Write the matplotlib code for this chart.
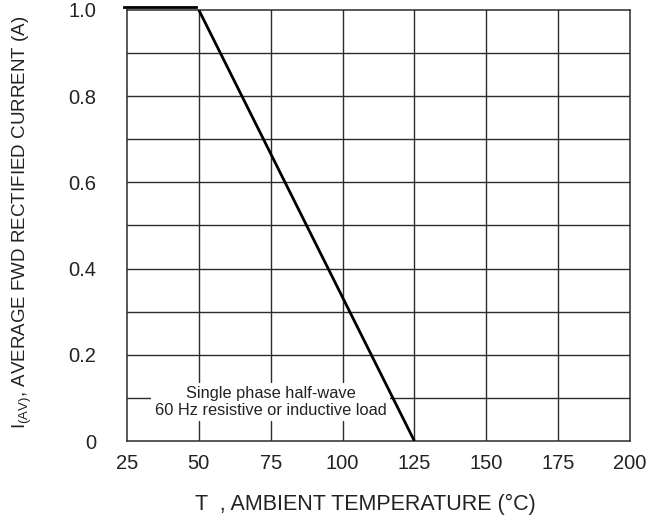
import matplotlib
matplotlib.use("Agg")
import matplotlib.pyplot as plt
from matplotlib.transforms import offset_copy

plt.rcParams["font.family"] = ["Liberation Sans", "DejaVu Sans"]

# derating curve: flat to 50 C, then linear down to zero at 125 C
flat_temp = [25, 50]
flat_current = [1.0, 1.0]
slope_temp = [50, 125]
slope_current = [1.0, 0.0]

x_ticks = [25, 50, 75, 100, 125, 150, 175, 200]
y_ticks = [0, 0.2, 0.4, 0.6, 0.8, 1.0]
y_tick_labels = ["0", "0.2", "0.4", "0.6", "0.8", "1.0"]
y_grid = [0.1, 0.2, 0.3, 0.4, 0.5, 0.6, 0.7, 0.8, 0.9]

fig = plt.figure(figsize=(6.6, 5.2), dpi=100)
ax = fig.add_axes([0.1924, 0.1519, 0.7621, 0.8289])
ax.set_xlim(25, 200)
ax.set_ylim(0, 1.0)

grid_color = "#2b2b2b"
for x in x_ticks[1:-1]:
    ax.axvline(x, color=grid_color, lw=1.0, zorder=1)
for y in y_grid:
    ax.axhline(y, color=grid_color, lw=1.0, zorder=1)

for side in ax.spines.values():
    side.set_color(grid_color)
    side.set_linewidth(1.1)

ax.plot(slope_temp, slope_current, color="black", lw=2.0, zorder=4,
        solid_capstyle="butt")
ax.plot(flat_temp, flat_current, color="black", lw=2.0, zorder=4,
        clip_on=False, solid_capstyle="projecting",
        transform=offset_copy(ax.transData, fig=fig, x=-3, y=3, units="dots"))

ax.text(75, 0.091, "Single phase half-wave\n60 Hz resistive or inductive load",
        ha="center", va="center", fontsize=11.8, color="#222222",
        linespacing=1.12, zorder=3,
        bbox=dict(facecolor="white", edgecolor="none", pad=2.5))

ax.set_xticks(x_ticks)
ax.set_yticks(y_ticks)
ax.set_yticklabels(y_tick_labels)
ax.tick_params(axis="both", length=0, labelsize=14.5, colors="#222222")
ax.tick_params(axis="x", pad=9)
ax.tick_params(axis="y", pad=22)

fig.text(0.553, 0.029, "T  , AMBIENT TEMPERATURE (°C)", ha="center",
         va="center", fontsize=15.5, color="#222222")
fig.text(0.034, 0.573,
         r"I$_{\mathregular{(AV)}}$, AVERAGE FWD RECTIFIED CURRENT (A)",
         rotation=90, ha="center", va="center", fontsize=13.5,
         color="#222222")

fig.savefig("out.png", dpi=100)
